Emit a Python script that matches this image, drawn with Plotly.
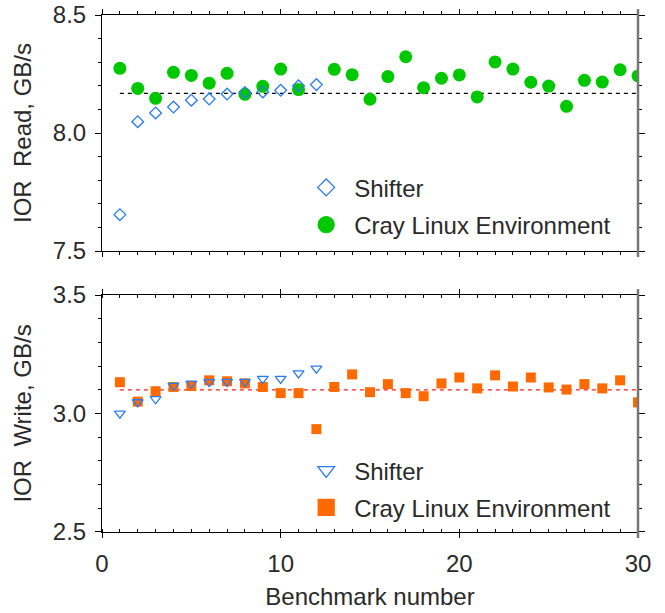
import plotly.graph_objects as go

bench = list(range(1, 31))
shifter_bench = list(range(1, 13))

read_cle = [8.274, 8.189, 8.147, 8.257, 8.244, 8.211, 8.253, 8.164, 8.198, 8.271,
            8.184, None, 8.270, 8.247, 8.143, 8.239, 8.323, 8.192, 8.232, 8.246,
            8.153, 8.301, 8.271, 8.215, 8.199, 8.113, 8.223, 8.216, 8.268, 8.242]
read_shifter = [7.654, 8.048, 8.085, 8.110, 8.139, 8.144, 8.165, 8.172, 8.174, 8.181,
                8.200, 8.205]
read_ref = 8.168

write_cle = [3.132, 3.050, 3.094, 3.112, 3.116, 3.140, 3.136, 3.127, 3.112, 3.086,
             3.086, 2.934, 3.112, 3.165, 3.090, 3.124, 3.086, 3.073, 3.127, 3.152,
             3.106, 3.161, 3.114, 3.152, 3.110, 3.101, 3.124, 3.106, 3.140, 3.047]
write_shifter = [3.000, 3.048, 3.061, 3.117, 3.127, 3.133, 3.134, 3.134, 3.147, 3.147,
                 3.170, 3.190]
write_ref = 3.100

FONT = "Liberation Sans"
FS = 24
TXT = "#2a2a2a"
GREEN = "#00c800"
BLUE = "#2a7bf6"
ORANGE = "#ff6a00"

fig = go.Figure()

# top panel
fig.add_trace(go.Scatter(x=[bench[0], bench[-1]], y=[read_ref, read_ref], mode="lines",
                         line=dict(color="black", width=1.3, dash="4px,4px"),
                         showlegend=False, xaxis="x", yaxis="y", hoverinfo="skip"))
fig.add_trace(go.Scatter(x=bench, y=read_cle, mode="markers", name="Cray Linux Environment",
                         marker=dict(symbol="circle", size=13, color=GREEN),
                         xaxis="x", yaxis="y", showlegend=False))
fig.add_trace(go.Scatter(x=shifter_bench, y=read_shifter, mode="markers", name="Shifter",
                         marker=dict(symbol="diamond-open", size=9, color=BLUE,
                                     line=dict(width=1.3, color=BLUE)),
                         xaxis="x", yaxis="y", showlegend=False))

# bottom panel
fig.add_trace(go.Scatter(x=[bench[0], bench[-1]], y=[write_ref, write_ref], mode="lines",
                         line=dict(color="#ff1a1a", width=1.3, dash="4px,4px"),
                         showlegend=False, xaxis="x2", yaxis="y2", hoverinfo="skip"))
fig.add_trace(go.Scatter(x=bench, y=write_cle, mode="markers", name="Cray Linux Environment",
                         marker=dict(symbol="square", size=10, color=ORANGE),
                         xaxis="x2", yaxis="y2", showlegend=False))
fig.add_trace(go.Scatter(x=shifter_bench, y=write_shifter, mode="markers", name="Shifter",
                         marker=dict(symbol="triangle-down-open", size=9.5, color=BLUE,
                                     line=dict(width=1.3, color=BLUE)),
                         xaxis="x2", yaxis="y2", showlegend=False))

# legend keys (larger symbols than the data markers, as in the original)
legend_keys = [
    ("Shifter", "diamond-open", 13, BLUE, "x", "y", "legend", "a1", 1),
    ("Cray Linux Environment", "circle", 16, GREEN, "x", "y", "legend", "a2", 2),
    ("Shifter", "triangle-down-open", 14.5, BLUE, "x2", "y2", "legend2", "b1", 1),
    ("Cray Linux Environment", "square", 16, ORANGE, "x2", "y2", "legend2", "b2", 2),
]
for name, sym, size, col, xa, ya, leg, grp, rank in legend_keys:
    fig.add_trace(go.Scatter(x=[None], y=[None], mode="markers", name=name,
                             marker=dict(symbol=sym, size=size, color=col,
                                         line=dict(width=1.3, color=col)),
                             xaxis=xa, yaxis=ya, legend=leg, legendgroup=grp,
                             legendrank=rank, hoverinfo="skip"))

tickfont = dict(family=FONT, size=FS, color=TXT)
axis_common = dict(showline=True, linecolor="black", linewidth=1, mirror="ticks",
                   ticks="outside", ticklen=6, tickcolor="black", tickwidth=1,
                   showgrid=False, zeroline=False, automargin=False,
                   tickfont=tickfont)
ymin = dict(dtick=0.1, ticks="outside", ticklen=3, tickcolor="black")

fig.update_layout(
    width=665, height=613,
    margin=dict(l=102, r=27, t=15, b=81),
    paper_bgcolor="white", plot_bgcolor="white",
    font=dict(family=FONT, size=FS, color=TXT),
    xaxis=dict(axis_common, domain=[0, 1], range=[0, 30], anchor="y",
               tickvals=[0, 10, 20, 30], showticklabels=False, ticklen=5,
               minor=dict(dtick=1, ticks="outside", ticklen=3, tickcolor="black")),
    yaxis=dict(axis_common, domain=[0.5435, 1], range=[7.5, 8.5], anchor="x",
               tickvals=[7.5, 8.0, 8.5], ticktext=["7.5", "8.0", "8.5"],
               minor=ymin, ticklabelstandoff=4,
               title=dict(text="IOR\u00a0\u00a0Read, GB/s", standoff=14,
                          font=dict(family=FONT, size=FS, color=TXT))),
    xaxis2=dict(axis_common, domain=[0, 1], range=[0, 30], anchor="y2",
                tickvals=[0, 10, 20, 30], ticklen=5, ticklabelstandoff=5,
                minor=dict(dtick=1, ticks="inside", ticklen=3, tickcolor="black"),
                title=dict(text="Benchmark number", standoff=12,
                           font=dict(family=FONT, size=FS, color=TXT))),
    yaxis2=dict(axis_common, domain=[0, 0.4584], range=[2.5, 3.5], anchor="x2",
                tickvals=[2.5, 3.0, 3.5], ticktext=["2.5", "3.0", "3.5"],
                minor=ymin, ticklabelstandoff=4,
                title=dict(text="IOR\u00a0\u00a0Write, GB/s", standoff=14,
                           font=dict(family=FONT, size=FS, color=TXT))),
    legend=dict(x=0.366, y=0.63, xanchor="left", yanchor="middle",
                bgcolor="rgba(0,0,0,0)", font=dict(family=FONT, size=FS, color=TXT),
                itemsizing="trace", itemwidth=46, tracegroupgap=3),
    legend2=dict(x=0.366, y=0.083, xanchor="left", yanchor="middle",
                 bgcolor="rgba(0,0,0,0)", font=dict(family=FONT, size=FS, color=TXT),
                 itemsizing="trace", itemwidth=46, tracegroupgap=3),
    shapes=[
        dict(type="line", xref="x domain", yref="y domain", x0=1, x1=1, y0=-0.025, y1=1.025,
             line=dict(color="#777", width=2.5), layer="above"),
        dict(type="line", xref="x2 domain", yref="y2 domain", x0=1, x1=1, y0=-0.025, y1=1.025,
             line=dict(color="#777", width=2.5), layer="above"),
    ],
)

fig.write_html("out.html", config={"displayModeBar": False},
               post_script="document.body.style.margin='0';")
